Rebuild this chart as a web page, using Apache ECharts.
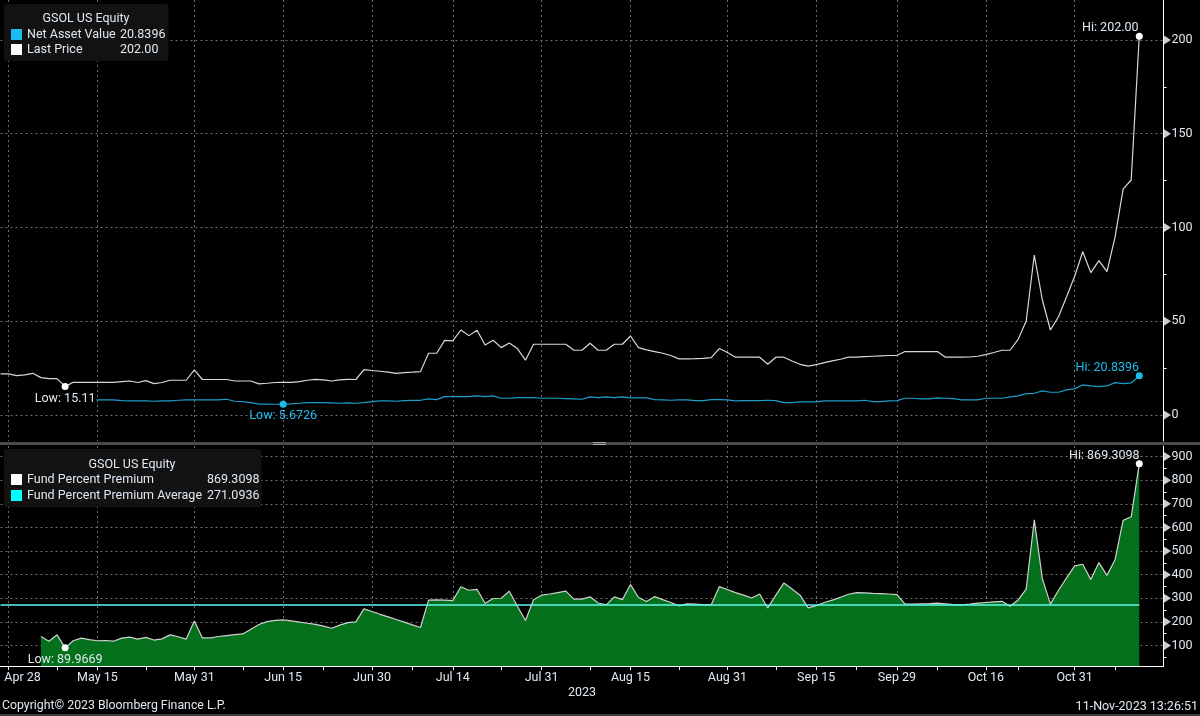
<!DOCTYPE html>
<html>
<head>
    <meta charset="utf-8">
    <title>GSOL US Equity</title>
    <script src="https://cdn.jsdelivr.net/npm/echarts@6/dist/echarts.min.js"></script>
    <style>
        html, body { margin: 0; padding: 0; background: #000; }
        #chart { width: 1200px; height: 716px; }
    </style>
</head>
<body>
<div id="chart"></div>

<script type="text/javascript">
    // business days, the axis has no gaps for weekends
    var dates = ['Apr 27', 'Apr 28',
        'May 1', 'May 2', 'May 3', 'May 4', 'May 5', 'May 8', 'May 9', 'May 10', 'May 11', 'May 12',
        'May 15', 'May 16', 'May 17', 'May 18', 'May 19', 'May 22', 'May 23', 'May 24', 'May 25', 'May 26',
        'May 29', 'May 30', 'May 31', 'Jun 1', 'Jun 2', 'Jun 5', 'Jun 6', 'Jun 7', 'Jun 8', 'Jun 9',
        'Jun 12', 'Jun 13', 'Jun 14', 'Jun 15', 'Jun 16', 'Jun 19', 'Jun 20', 'Jun 21', 'Jun 22', 'Jun 23',
        'Jun 26', 'Jun 27', 'Jun 28', 'Jun 29', 'Jun 30', 'Jul 3', 'Jul 4', 'Jul 5', 'Jul 6', 'Jul 7',
        'Jul 10', 'Jul 11', 'Jul 12', 'Jul 13', 'Jul 14', 'Jul 17', 'Jul 18', 'Jul 19', 'Jul 20', 'Jul 21',
        'Jul 24', 'Jul 25', 'Jul 26', 'Jul 27', 'Jul 28', 'Jul 31', 'Aug 1', 'Aug 2', 'Aug 3', 'Aug 4',
        'Aug 7', 'Aug 8', 'Aug 9', 'Aug 10', 'Aug 11', 'Aug 14', 'Aug 15', 'Aug 16', 'Aug 17', 'Aug 18',
        'Aug 21', 'Aug 22', 'Aug 23', 'Aug 24', 'Aug 25', 'Aug 28', 'Aug 29', 'Aug 30', 'Aug 31', 'Sep 1',
        'Sep 4', 'Sep 5', 'Sep 6', 'Sep 7', 'Sep 8', 'Sep 11', 'Sep 12', 'Sep 13', 'Sep 14', 'Sep 15',
        'Sep 18', 'Sep 19', 'Sep 20', 'Sep 21', 'Sep 22', 'Sep 25', 'Sep 26', 'Sep 27', 'Sep 28', 'Sep 29',
        'Oct 2', 'Oct 3', 'Oct 4', 'Oct 5', 'Oct 6', 'Oct 9', 'Oct 10', 'Oct 11', 'Oct 12', 'Oct 13',
        'Oct 16', 'Oct 17', 'Oct 18', 'Oct 19', 'Oct 20', 'Oct 23', 'Oct 24', 'Oct 25', 'Oct 26', 'Oct 27',
        'Oct 30', 'Oct 31', 'Nov 1', 'Nov 2', 'Nov 3', 'Nov 6', 'Nov 7', 'Nov 8', 'Nov 9', 'Nov 10',
        'Nov 13', 'Nov 14', 'Nov 15'];
    var labelDates = ['Apr 28', 'May 15', 'May 31', 'Jun 15', 'Jun 30', 'Jul 14', 'Jul 31', 'Aug 15', 'Aug 31', 'Sep 15', 'Sep 29', 'Oct 16', 'Oct 31'];
    var minorTickDates = ['May 8', 'May 23', 'Jun 8', 'Jun 22', 'Jul 7', 'Jul 24', 'Aug 8', 'Aug 23', 'Sep 8', 'Sep 22', 'Oct 6', 'Oct 20', 'Nov 7'];

    var lastPrice = [21.9, 21.9, 21.0, 21.4, 22.2, 19.9, 19.4, 19.4, 15.11,
        17.4, 17.4, 17.4, 17.4, 17.4, 17.4, 17.8, 18.1, 17.3, 18.3, 16.7, 17.3, 18.5, 18.5, 18.5, 24.0,
        18.9, 18.9, 18.9, 18.9, 18.1, 18.1, 18.1, 16.6, 16.9, 17.3, 17.4, 17.4, 17.8, 18.5, 19.0, 18.7,
        18.1, 18.7, 19.0, 18.9, 24.2, 23.7, 23.3, 22.8, 22.2, 22.6, 22.8, 23.1, 32.9, 32.9, 39.8, 39.5,
        45.3, 42.3, 45.2, 37.3, 39.8, 35.9, 38.4, 35.4, 29.2, 37.7, 37.7, 37.7, 37.7, 37.7, 34.5, 34.5,
        38.2, 34.5, 34.5, 37.7, 37.7, 42.1, 35.9, 34.7, 33.8, 32.9, 31.7, 29.9, 29.9, 30.0, 30.2, 30.6,
        35.4, 33.3, 30.8, 30.8, 30.8, 30.8, 27.0, 30.8, 30.8, 28.8, 27.0, 26.0, 26.8, 27.9, 28.8, 29.7,
        30.8, 30.8, 31.1, 31.3, 31.5, 31.7, 31.8, 33.8, 33.8, 33.8, 33.8, 33.8, 30.8, 30.8, 30.8, 30.9,
        31.3, 32.2, 33.3, 34.5, 34.5, 40.3, 50.1, 85.3, 61.3, 45.3, 52.4, 63.0, 74.0, 87.0, 75.9, 82.3,
        76.4, 94.8, 120.4, 125.3, 202.0];
    var netAssetValue = [null, null, null, null, null, 7.8, 7.8, 7.7, 7.6, 7.5, 7.6, 7.8,
        8.0, 8.0, 8.0, 7.64, 7.47, 7.47, 7.47, 7.29, 7.47, 7.47, 7.82, 8.0, 8.0, 8.0, 8.0, 8.0, 8.36,
        7.29, 7.11, 6.58, 5.75, 5.72, 5.7, 5.6726, 5.87, 6.22, 6.58, 6.58, 6.58, 6.4, 6.22, 6.4, 6.22,
        6.58, 7.11, 7.47, 7.47, 7.29, 7.64, 7.82, 7.82, 8.53, 8.18, 9.78, 9.78, 9.78, 9.78, 10.13, 9.78,
        10.13, 8.89, 8.89, 9.24, 9.24, 9.24, 8.89, 8.89, 8.89, 8.71, 8.53, 8.36, 9.6, 9.24,
        9.6, 9.24, 9.6, 9.07, 9.07, 9.07, 8.18, 8.0, 7.82, 8.0, 8.0, 7.64, 7.64, 8.18, 8.18, 8.0, 7.47,
        7.64, 7.64, 7.64, 7.82, 7.64, 6.58, 6.58, 6.93, 6.93, 6.93, 7.47, 7.47, 7.47, 7.47, 7.47, 7.82,
        7.11, 7.11, 7.47, 7.64, 8.89, 8.89, 8.53, 8.53, 9.07, 8.89, 8.71, 8.0, 8.0, 8.0, 8.89, 8.89,
        8.89, 9.6, 10.13, 11.37, 11.55, 12.8, 12.09, 12.09, 13.33, 14.04, 16.0, 15.47, 15.1, 15.47,
        17.24, 16.7, 17.06, 20.8396];
    var premium = [null, null, null, null, null, 138, 118, 145, 89.9669, 120, 131, 125, 120, 121, 118,
        131, 135, 127, 134, 123, 128, 145, 137, 127, 204, 132, 132, 138, 142, 146, 149, 169, 189, 201,
        206, 208, 204, 199, 194, 189, 182, 173, 186, 197, 200, 255, 244, 232, 221, 210, 199, 187, 176,
        292, 293, 292, 290, 349, 334, 338, 279, 299, 300, 330, 266, 206, 294, 313, 318, 324, 330, 296,
        296, 306, 280, 272, 306, 294, 358, 303, 286, 307, 294, 282, 268, 276, 275, 273, 272, 349, 337,
        324, 313, 301, 318, 259, 313, 365, 339, 313, 259, 269, 282, 292, 304, 317, 324, 323, 321, 320,
        318, 315, 275, 275, 276, 277, 279, 276, 273, 272, 275, 279, 282, 285, 287, 266, 293, 339, 632,
        383, 275, 334, 386, 437, 444, 379, 451, 397, 463, 630, 645, 869.3098];
    var premiumAverage = 271.0936;

    var priceTicks = [0, 50, 100, 150, 200];
    var priceMinorTicks = [25, 75, 125, 175];
    var premiumTicks = [100, 200, 300, 400, 500, 600, 700, 800, 900];
    var premiumMinorTicks = [50, 150, 250, 350, 450, 550, 650, 750, 850];

    var FONT = 'Roboto';
    var FONT_SIZE = 12.5;
    var TEXT = '#dfe9f2';
    var BLUE = '#1cbcf2';
    var GRID_LINE = { color: '#6e6e6e', width: 1, type: [2, 3] };
    var lastDate = dates[dates.length - 1];

    function isLabelDate(i, value) {
        return labelDates.indexOf(value) >= 0;
    }
    function isTickDate(i, value) {
        return labelDates.indexOf(value) >= 0 || minorTickDates.indexOf(value) >= 0;
    }

    // dot plus text at the highest or lowest value of a series
    function extreme(values, fn, text, color, position, offset, background) {
        var numbers = values.filter(function (v) { return v !== null; });
        var value = Math[fn].apply(null, numbers);
        return {
            coord: [dates[values.indexOf(value)], value],
            symbol: 'circle',
            symbolSize: 7,
            itemStyle: { color: color },
            label: {
                show: true,
                formatter: text,
                position: position,
                distance: 3,
                offset: offset,
                color: color === '#ffffff' ? TEXT : color,
                fontFamily: FONT,
                fontSize: FONT_SIZE,
                backgroundColor: background || 'transparent',
                padding: background ? [0, 1] : 0
            }
        };
    }

    function yAxisMajor(gridIndex, min, max, ticks) {
        return {
            gridIndex: gridIndex, type: 'value', position: 'right', min: min, max: max,
            axisLine: { show: true, onZero: false, lineStyle: { color: '#ffffff', width: 1 } },
            axisTick: { show: false, customValues: ticks },
            axisLabel: { customValues: ticks, showMinLabel: true, showMaxLabel: true, color: TEXT, fontFamily: FONT, fontSize: FONT_SIZE, margin: 8, padding: [4, 0, 0, 0] },
            splitLine: { show: true, lineStyle: GRID_LINE }
        };
    }
    function yAxisMinor(gridIndex, min, max, ticks) {
        return {
            gridIndex: gridIndex, type: 'value', position: 'right', min: min, max: max,
            axisLine: { show: false },
            axisTick: { show: true, customValues: ticks, length: 3, lineStyle: { color: '#ffffff' } },
            axisLabel: { show: false },
            splitLine: { show: false }
        };
    }
    // the little arrow heads on the value axes
    function arrowSeries(xAxisIndex, yAxisIndex, ticks) {
        return {
            type: 'scatter', xAxisIndex: xAxisIndex, yAxisIndex: yAxisIndex, silent: true, clip: false,
            symbol: 'triangle', symbolSize: [9, 7], symbolRotate: -90, symbolOffset: [4, 0],
            itemStyle: { color: '#ffffff' }, z: 5,
            data: ticks.map(function (t) { return [lastDate, t]; })
        };
    }
    function legendLabel(rows) {
        return function (name) { return '{n|' + name + '}{v|' + rows[name] + '}'; };
    }

    var priceRows = { 'Net Asset Value': '20.8396', 'Last Price': '202.00' };
    var premiumRows = { 'Fund Percent Premium': '869.3098', 'Fund Percent Premium Average': '271.0936' };

    var option = {
        backgroundColor: '#000000',
        animation: false,
        textStyle: { fontFamily: FONT },
        grid: [
            { left: 0.5, width: 1163, top: 0, height: 441, containLabel: false },
            { left: 0.5, width: 1163, top: 446, height: 220, containLabel: false }
        ],
        title: [
            { text: 'GSOL US Equity', left: 86, top: 12, textAlign: 'center', padding: 0, textStyle: { color: TEXT, fontSize: FONT_SIZE, fontWeight: 'normal', fontFamily: FONT } },
            { text: 'GSOL US Equity', left: 132, top: 458, textAlign: 'center', padding: 0, textStyle: { color: TEXT, fontSize: FONT_SIZE, fontWeight: 'normal', fontFamily: FONT } }
        ],
        legend: [
            {
                left: 4, top: 4, orient: 'vertical', selectedMode: false, itemWidth: 11, itemHeight: 11, itemGap: 2,
                padding: [24, 3, 5, 7], backgroundColor: '#121212', borderRadius: 3,
                data: [
                    { name: 'Net Asset Value', icon: 'rect', itemStyle: { color: BLUE } },
                    { name: 'Last Price', icon: 'rect', itemStyle: { color: '#ffffff' } }
                ],
                formatter: legendLabel(priceRows),
                textStyle: { color: TEXT, fontFamily: FONT, fontSize: FONT_SIZE, rich: {
                    n: { width: 93, color: TEXT, fontFamily: FONT, fontSize: FONT_SIZE },
                    v: { color: TEXT, fontFamily: FONT, fontSize: FONT_SIZE }
                } }
            },
            {
                left: 4, top: 449, orient: 'vertical', selectedMode: false, itemWidth: 11, itemHeight: 11, itemGap: 3,
                padding: [24, 2, 5, 7], backgroundColor: '#121212', borderRadius: 3,
                data: [
                    { name: 'Fund Percent Premium', icon: 'rect', itemStyle: { color: '#ffffff' } },
                    { name: 'Fund Percent Premium Average', icon: 'rect', itemStyle: { color: '#00ffff' } }
                ],
                formatter: legendLabel(premiumRows),
                textStyle: { color: TEXT, fontFamily: FONT, fontSize: FONT_SIZE, rich: {
                    n: { width: 180, color: TEXT, fontFamily: FONT, fontSize: FONT_SIZE },
                    v: { color: TEXT, fontFamily: FONT, fontSize: FONT_SIZE }
                } }
            }
        ],
        xAxis: [
            {
                gridIndex: 0, type: 'category', data: dates, boundaryGap: false,
                axisLine: { show: false }, axisTick: { show: false }, axisLabel: { show: false },
                splitLine: { show: true, interval: isLabelDate, lineStyle: GRID_LINE }
            },
            {
                gridIndex: 1, type: 'category', data: dates, boundaryGap: false,
                name: '2023', nameLocation: 'middle', nameGap: 20,
                nameTextStyle: { color: TEXT, fontFamily: FONT, fontSize: FONT_SIZE },
                axisLine: { show: true, lineStyle: { color: '#ffffff', width: 1 } },
                axisTick: { show: true, interval: isTickDate, length: 4, lineStyle: { color: '#ffffff' } },
                axisLabel: {
                    show: true, interval: isLabelDate, color: TEXT, fontFamily: FONT, fontSize: FONT_SIZE, margin: 5,
                    formatter: function (v) { return v === 'Apr 28' ? '{first|' + v + '}' : v; },
                    rich: { first: { padding: [0, 0, 0, 28], color: TEXT, fontFamily: FONT, fontSize: FONT_SIZE } }
                },
                splitLine: { show: true, interval: isLabelDate, lineStyle: GRID_LINE }
            }
        ],
        yAxis: [
            yAxisMajor(0, -13.9, 221.3, priceTicks),
            yAxisMajor(1, 13, 945, premiumTicks),
            yAxisMinor(0, -13.9, 221.3, priceMinorTicks),
            yAxisMinor(1, 13, 945, premiumMinorTicks)
        ],
        series: [
            {
                name: 'Net Asset Value', type: 'line', xAxisIndex: 0, yAxisIndex: 0, data: netAssetValue,
                showSymbol: false, silent: true, z: 3,
                lineStyle: { color: '#1d9ec9', width: 1.2 },
                markPoint: { silent: true, animation: false, data: [
                    extreme(netAssetValue, 'max', 'Hi: 20.8396', BLUE, 'top', [-32, 5]),
                    extreme(netAssetValue, 'min', 'Low: 5.6726', BLUE, 'bottom', [0, -1])
                ] }
            },
            {
                name: 'Last Price', type: 'line', xAxisIndex: 0, yAxisIndex: 0, data: lastPrice,
                showSymbol: false, silent: true, z: 4,
                lineStyle: { color: '#d8d8d8', width: 1.2 },
                markPoint: { silent: true, animation: false, data: [
                    extreme(lastPrice, 'max', 'Hi: 202.00', '#ffffff', 'top', [-29, 5]),
                    extreme(lastPrice, 'min', 'Low: 15.11', '#ffffff', 'bottom', [0, -1], '#000000')
                ] }
            },
            {
                name: 'Fund Percent Premium', type: 'line', xAxisIndex: 1, yAxisIndex: 1, data: premium,
                showSymbol: false, silent: true, z: 3,
                lineStyle: { color: '#d0d0d0', width: 1.2 },
                areaStyle: { color: '#05761c', opacity: 0.95, origin: 'start' },
                markPoint: { silent: true, animation: false, data: [
                    extreme(premium, 'max', 'Hi: 869.3098', '#ffffff', 'top', [-35, 5]),
                    extreme(premium, 'min', 'Low: 89.9669', '#ffffff', 'bottom', [0, -1])
                ] }
            },
            {
                name: 'Fund Percent Premium Average', type: 'line', xAxisIndex: 1, yAxisIndex: 1,
                data: dates.slice(0, lastPrice.length).map(function () { return premiumAverage; }),
                showSymbol: false, silent: true, z: 4,
                lineStyle: { color: '#62f7ec', width: 1.5 }
            },
            arrowSeries(0, 0, priceTicks),
            arrowSeries(1, 1, premiumTicks)
        ],
        graphic: [
            { type: 'rect', shape: { x: 0, y: 442, width: 1200, height: 3 }, style: { fill: '#4a4a4a' }, silent: true },
            { type: 'rect', shape: { x: 593, y: 442, width: 13, height: 1 }, style: { fill: '#a8a8a8' }, silent: true },
            { type: 'rect', shape: { x: 593, y: 444, width: 13, height: 1 }, style: { fill: '#a8a8a8' }, silent: true },
            { type: 'text', left: 2, top: 700, style: { text: 'Copyright\u00a9 2023 Bloomberg Finance L.P.', fill: TEXT, font: '12.3px ' + FONT }, silent: true },
            { type: 'text', right: 2, top: 700, style: { text: '11-Nov-2023 13:26:51', fill: TEXT, font: FONT_SIZE + 'px ' + FONT }, silent: true },
            { type: 'rect', shape: { x: 0, y: 714, width: 1200, height: 2 }, style: { fill: '#3a3a3a' }, silent: true }
        ]
    };

    var myChart = echarts.init(document.getElementById('chart'));
    myChart.setOption(option);
</script>
</body>
</html>
